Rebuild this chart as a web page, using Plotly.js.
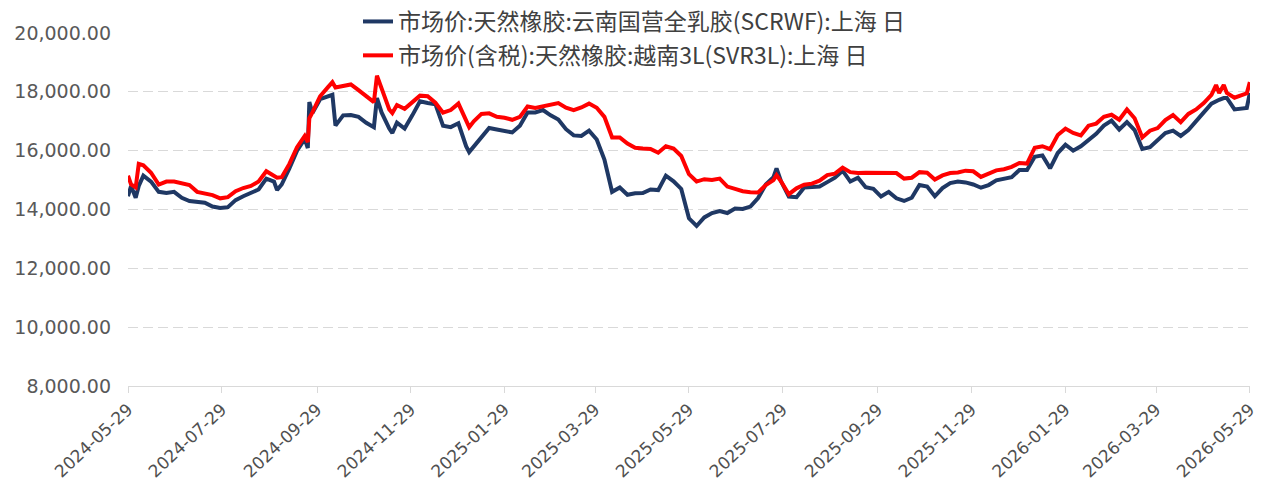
<!DOCTYPE html>
<html>
<head>
<meta charset="utf-8">
<script src="https://cdn.plot.ly/plotly-3.0.1.min.js"></script>
<style>html,body{margin:0;padding:0;background:#fff;}</style>
</head>
<body>
<div id="chart" style="width:1263px;height:482px;"></div>
<script>
const dates = [
"2024-05-29","2024-05-31","2024-06-03","2024-06-05","2024-06-08","2024-06-13","2024-06-18","2024-06-23","2024-06-28","2024-07-03",
"2024-07-08","2024-07-13","2024-07-18","2024-07-23","2024-07-28","2024-08-02","2024-08-07","2024-08-12","2024-08-17","2024-08-22",
"2024-08-27","2024-09-01","2024-09-03","2024-09-06","2024-09-11","2024-09-16","2024-09-21","2024-09-23","2024-09-24","2024-09-26",
"2024-10-01","2024-10-06","2024-10-09","2024-10-11","2024-10-16","2024-10-21","2024-10-26","2024-10-31","2024-11-05","2024-11-07",
"2024-11-10","2024-11-15","2024-11-17","2024-11-20","2024-11-25","2024-11-30","2024-12-05","2024-12-10","2024-12-15","2024-12-20",
"2024-12-25","2024-12-30","2025-01-04","2025-01-06","2025-01-09","2025-01-14","2025-01-19","2025-01-24","2025-01-29","2025-02-03",
"2025-02-08","2025-02-13","2025-02-18","2025-02-23","2025-02-28","2025-03-05","2025-03-10","2025-03-15","2025-03-20","2025-03-25",
"2025-03-30","2025-04-04","2025-04-09","2025-04-14","2025-04-19","2025-04-24","2025-04-29","2025-05-04","2025-05-09","2025-05-14",
"2025-05-19","2025-05-24","2025-05-29","2025-06-03","2025-06-08","2025-06-13","2025-06-18","2025-06-23","2025-06-28","2025-07-03",
"2025-07-08","2025-07-13","2025-07-18","2025-07-23","2025-07-25","2025-07-28","2025-08-02","2025-08-07","2025-08-12","2025-08-17",
"2025-08-22","2025-08-27","2025-09-01","2025-09-06","2025-09-11","2025-09-16","2025-09-21","2025-09-26","2025-10-01","2025-10-06",
"2025-10-11","2025-10-16","2025-10-21","2025-10-26","2025-10-31","2025-11-05","2025-11-10","2025-11-15","2025-11-20","2025-11-25",
"2025-11-30","2025-12-05","2025-12-10","2025-12-15","2025-12-20","2025-12-25","2025-12-30","2026-01-04","2026-01-09","2026-01-14",
"2026-01-19","2026-01-24","2026-01-29","2026-02-03","2026-02-08","2026-02-13","2026-02-18","2026-02-23","2026-02-28","2026-03-05",
"2026-03-10","2026-03-15","2026-03-20","2026-03-25","2026-03-30","2026-04-04","2026-04-09","2026-04-14","2026-04-19","2026-04-24",
"2026-04-29","2026-05-04","2026-05-07","2026-05-09","2026-05-12","2026-05-14","2026-05-19","2026-05-24","2026-05-27","2026-05-29"
];
const scrwf = [
14450,14800,14400,14800,15150,14950,14600,14560,14600,14400,
14290,14250,14230,14100,14050,14080,14320,14450,14580,14680,
15050,14950,14660,14850,15400,16000,16400,16090,17650,17280,
17750,17850,17900,16850,17200,17210,17150,16950,16800,17790,
17300,16750,16600,16950,16750,17200,17680,17620,17580,16850,
16800,16930,16150,15950,16150,16450,16770,16720,16680,16620,
16850,17300,17300,17380,17200,17060,16730,16520,16500,16680,
16380,15700,14600,14750,14500,14550,14560,14680,14660,15150,
14960,14700,13700,13440,13730,13880,13950,13880,14030,14020,
14100,14390,14850,15100,15400,14950,14440,14420,14750,14760,
14780,14930,15080,15320,14950,15080,14760,14700,14440,14600,
14380,14290,14400,14830,14780,14450,14730,14900,14950,14920,
14850,14740,14830,14990,15050,15100,15340,15340,15790,15840,
15400,15920,16200,16000,16150,16380,16570,16850,17020,16720,
16970,16700,16060,16120,16360,16600,16680,16500,16700,17020,
17300,17600,17700,17730,17790,17790,17400,17450,17450,17960
];
const svr3l = [
15150,14850,14750,15550,15500,15250,14850,14950,14950,14900,
14830,14600,14560,14490,14380,14420,14620,14730,14800,14950,
15300,15150,15080,15100,15550,16120,16500,16290,17100,17300,
17850,18150,18330,18150,18200,18250,18060,17850,17650,18550,
18100,17400,17280,17550,17420,17650,17870,17850,17630,17290,
17380,17600,17000,16800,17000,17250,17270,17150,17120,17050,
17150,17500,17450,17500,17550,17620,17460,17380,17470,17600,
17460,17150,16450,16450,16240,16100,16070,16060,15930,16150,
16070,15820,15200,14950,15030,15000,15050,14780,14700,14620,
14590,14580,14830,15000,15170,14950,14520,14720,14840,14880,
14980,15170,15220,15420,15270,15240,15250,15250,15250,15250,
15240,15050,15080,15270,15250,15020,15160,15240,15260,15320,
15300,15110,15230,15330,15370,15450,15580,15560,16100,16150,
16050,16530,16750,16600,16520,16850,16920,17150,17220,17050,
17400,17100,16450,16680,16770,17040,17210,16970,17250,17400,
17620,17900,18230,17960,18230,17960,17800,17890,17950,18330
];
const seriesNames = [
"市场价:天然橡胶:云南国营全乳胶(SCRWF):上海 日",
"市场价(含税):天然橡胶:越南3L(SVR3L):上海 日"
];
const xTickVals = ["2024-05-29","2024-07-29","2024-09-29","2024-11-29","2025-01-29","2025-03-29","2025-05-29","2025-07-29","2025-09-29","2025-11-29","2026-01-29","2026-03-29","2026-05-29"];
const yTickVals = [8000,10000,12000,14000,16000,18000,20000];

const traces = [
  {x: dates, y: scrwf, name: seriesNames[0], type: "scatter", mode: "lines",
   legendgroup: "a", line: {color: "#1F3864", width: 4}},
  {x: dates, y: svr3l, name: seriesNames[1], type: "scatter", mode: "lines",
   legendgroup: "b", line: {color: "#FF0000", width: 4}}
];

const layout = {
  width: 1263, height: 482,
  margin: {l: 128, r: 13, t: 33, b: 96, autoexpand: false},
  paper_bgcolor: "#ffffff", plot_bgcolor: "#ffffff",
  showlegend: true,
  legend: {
    xref: "container", yref: "container",
    x: 358/1263, y: 1, xanchor: "left", yanchor: "top",
    bgcolor: "rgba(0,0,0,0)", tracegroupgap: 1, itemwidth: 30,
    font: {family: "Noto Sans CJK SC, Noto Sans, sans-serif", size: 23, color: "#404040"}
  },
  xaxis: {
    type: "date",
    range: ["2024-05-29", "2026-05-29 02:00"],
    tickmode: "array", tickvals: xTickVals, ticktext: xTickVals,
    tickangle: -43,
    ticks: "outside", ticklen: 6, tickcolor: "#d9d9d9", tickwidth: 1,
    showline: true, linecolor: "#d9d9d9", linewidth: 1,
    showgrid: false, zeroline: false,
    tickfont: {family: "DejaVu Sans, sans-serif", size: 17, color: "#505050"}
  },
  yaxis: {
    range: [8000, 20000],
    tickmode: "array", tickvals: yTickVals,
    tickformat: ",.2f",
    showgrid: true, gridcolor: "#d9d9d9", gridwidth: 1, griddash: "10px,5px",
    zeroline: false, showline: false, ticks: "",
    ticklabelstandoff: 16,
    tickfont: {family: "DejaVu Sans, sans-serif", size: 19, color: "#595959"}
  }
};

Plotly.newPlot("chart", traces, layout, {displayModeBar: false, staticPlot: true});
</script>
</body>
</html>
